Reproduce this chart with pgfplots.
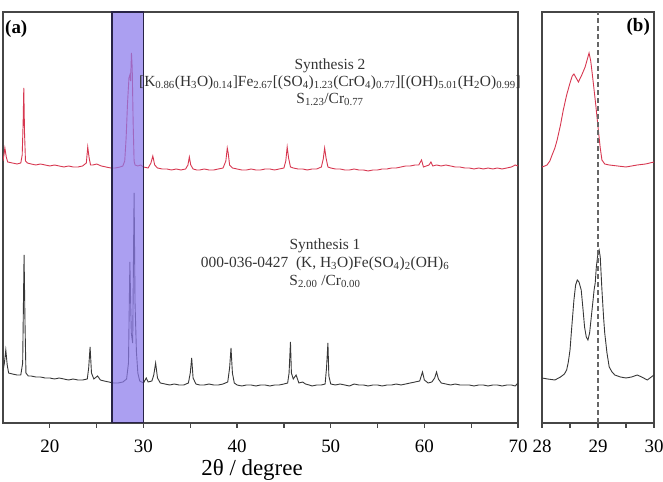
\documentclass[border=0pt]{standalone}
\usepackage{fontspec}
\setmainfont{Liberation Serif}
\usepackage{pgfplots}
\pgfplotsset{compat=1.18}

\definecolor{frame}{RGB}{70,70,70}
\definecolor{redtrace}{RGB}{215,55,80}
\definecolor{blacktrace}{RGB}{55,55,55}
\definecolor{window}{RGB}{139,122,235}
\definecolor{windowedge}{RGB}{40,35,70}
\newcommand{\sub}[1]{\textsubscript{#1}}

% Synthesis 2 (offset trace), 2theta vs intensity
\pgfplotstableread{
x y
15.0 262
15.1 268
15.2 275
15.35 266
15.5 261
16.0 260
16.5 259
16.9 260
17.05 268
17.15 300
17.22 335
17.3 290
17.4 262
17.6 260
18.0 259
18.5 258
19.0 259
19.5 258
20.0 257
20.5 258
21.0 257
21.5 256
22.0 257
22.5 256
23.0 256
23.5 257
23.9 260
24.05 276
24.2 265
24.35 258
24.6 258
25.0 259
25.5 257
26.0 256
26.5 255
27.0 255
27.5 256
27.8 257
28.0 262
28.15 285
28.3 320
28.45 345
28.55 348
28.62 342
28.72 370
28.8 355
28.9 300
29.0 262
29.1 258
29.4 257
29.7 258
30.0 256
30.5 255
30.8 260
31.0 267
31.2 258
31.5 255
32.0 254
32.5 254
33.0 253
33.5 254
34.0 253
34.5 254
34.75 258
34.9 266
35.05 258
35.3 254
35.7 253
36.0 253
36.5 254
37.0 253
37.5 253
38.0 254
38.5 255
38.8 262
38.95 275
39.05 270
39.2 258
39.5 255
40.0 254
40.5 253
41.0 253
41.5 254
42.0 253
42.5 253
43.0 254
43.5 254
44.0 253
44.5 254
45.0 255
45.2 262
45.35 276
45.5 265
45.7 256
46.0 255
46.5 254
47.0 254
47.5 253
48.0 254
48.5 254
49.0 256
49.2 264
49.35 275
49.5 265
49.7 256
50.0 255
50.5 254
51 254
51.5 253
52 253
52.5 254
53 253
53.5 253
54 252
54.5 253
55 253
55.5 254
56 254
56.5 255
57 255
57.5 256
58 257
58.5 257
59 258
59.4 258
59.7 263
59.9 256
60.2 257
60.5 258
60.7 261
60.9 257
61.3 258
61.8 257
62.3 258
62.8 257
63.3 256
63.8 256
64.3 255
64.8 255
65.3 254
65.8 255
66.3 254
66.8 255
67.3 254
67.8 255
68.3 254
68.8 255
69.3 256
69.7 258
70 257
}\synA

% Synthesis 1
\pgfplotstableread{
x y
15.0 52
15.15 60
15.3 73
15.45 58
15.6 50
16.0 49
16.5 48
16.9 48
17.1 60
17.25 168
17.35 100
17.45 50
17.7 47
18.0 47
18.5 46
19.0 46
19.5 45
20.0 45
20.5 44
21.0 45
21.5 44
22.0 43
22.5 44
23.0 43
23.5 43
24.0 44
24.15 55
24.3 76
24.45 50
24.7 44
25.1 47
25.4 43
25.8 42
26.3 41
26.8 40
27.3 40
27.8 41
28.2 44
28.4 60
28.55 161
28.7 90
28.85 80
29.0 230
29.1 120
29.25 71
29.4 50
29.6 42
30.0 40
30.3 45
30.5 41
30.9 42
31.1 48
31.3 60
31.5 45
31.8 40
32.3 39
32.8 38
33.3 39
33.8 38
34.3 38
34.8 40
35.0 50
35.15 65
35.3 45
35.6 39
36.0 38
36.5 38
37.0 39
37.5 38
38.0 38
38.5 39
39.0 41
39.2 55
39.35 75
39.5 50
39.7 40
40.0 38
40.5 37
41.0 38
41.5 38
42.0 37
42.5 38
43.0 38
43.5 37
44.0 38
44.5 38
45.0 39
45.4 40
45.55 50
45.7 81
45.8 50
46.0 44
46.3 48
46.6 40
47.0 41
47.3 39
47.7 38
48.0 37
48.5 38
49.0 38
49.4 39
49.55 55
49.7 80
49.8 47
50.0 39
50.5 38
51.0 39
51.5 38
52.0 37
52.5 39
53.0 38
53.5 38
54.0 37
54.5 38
55.0 38
55.5 37
56.0 38
56.5 38
57.0 39
57.5 38
58.0 39
58.5 40
59.0 41
59.5 42
59.8 51
60.0 43
60.4 40
60.8 41
61.1 45
61.3 51
61.5 44
61.8 40
62.3 39
62.8 38
63.3 39
63.8 38
64.3 38
64.8 38
65.3 37
65.8 38
66.3 38
66.8 37
67.3 38
67.8 38
68.3 37
68.8 38
69.3 38
69.7 37
70.0 40
}\synB

% Detail of the 28-30 degree window
\pgfplotstableread{
x y
28.0 256
28.05 257
28.09 258
28.14 262
28.18 268
28.23 275
28.27 283
28.33 298
28.38 313
28.44 328
28.5 340
28.54 347
28.57 349
28.61 345
28.65 341
28.71 348
28.77 356
28.81 364
28.84 370
28.87 362
28.91 343
28.96 318
29.0 296
29.04 275
29.07 263
29.12 259
29.2 258
29.35 257
29.5 256
29.7 258
29.85 259
30.0 261
}\zoomA

\pgfplotstableread{
x y
28.0 45
28.1 44
28.23 43
28.33 46
28.4 49
28.44 53
28.47 61
28.5 73
28.53 95
28.57 123
28.6 138
28.63 143
28.66 141
28.7 133
28.73 115
28.76 96
28.79 86
28.82 83
28.85 90
28.88 106
28.91 122
28.93 133
28.95 140
28.97 156
29.0 170
29.02 173
29.04 166
29.07 133
29.1 105
29.12 90
29.16 70
29.2 56
29.25 51
29.3 48
29.4 46
29.5 45
29.6 46
29.7 48
29.78 46
29.88 43
30.0 48
}\zoomB

\pgfplotsset{
  xrdpanel/.style={
    scale only axis,
    anchor=south west,
    height=411bp,
    ymin=0, ymax=411,
    ytick=\empty,
    xtick pos=left,
    tick align=outside,
    major tick length=5bp,
    minor tick length=5bp,
    minor x tick num=1,
    every tick/.style={line width=1.2bp, color=frame},
    axis line style={line width=1.6bp, color=frame},
    /pgf/number format/assume math mode=true,
    xticklabel style={font=\fontsize{19}{19}\selectfont, yshift=-8bp},
    clip=true,
  },
}

\begin{document}
\begin{tikzpicture}[x=1bp,y=1bp]
\useasboundingbox (0,0) rectangle (663,482);

% ---- (a) full pattern ----
\begin{axis}[xrdpanel,
  at={(3bp,59bp)}, width=515bp,
  xmin=15, xmax=70,
  xtick={20,30,40,50,60,70},
]
\addplot[redtrace, line width=0.9bp] table {\synA};
\addplot[blacktrace, line width=0.9bp] table {\synB};
\fill[window, fill opacity=0.72] (axis cs:26.65,0) rectangle (axis cs:30,411);
\draw[windowedge, line width=1.8bp] (axis cs:26.65,0) rectangle (axis cs:30,411);
\end{axis}

% ---- (b) 28-30 degree detail ----
\begin{axis}[xrdpanel,
  at={(542bp,59bp)}, width=112bp,
  xmin=28, xmax=30,
  xtick={28,29,30},
]
\addplot[redtrace, line width=0.9bp] table {\zoomA};
\addplot[blacktrace, line width=0.9bp] table {\zoomB};
\draw[black!60, line width=1.4bp, dash pattern=on 5bp off 3bp] (axis cs:29,0) -- (axis cs:29,411);
\end{axis}

% axis title, panel tags and sample annotations
\node[anchor=base, font=\fontsize{23}{23}\selectfont, inner sep=0pt] at (252,6) {2θ / degree};

\node[anchor=west, font=\fontsize{19}{19}\selectfont\bfseries, inner sep=0pt] at (5,453) {(a)};
\node[anchor=east, font=\fontsize{19}{19}\selectfont\bfseries, inner sep=0pt] at (650,455) {(b)};

\node[align=center, font=\fontsize{15.5}{17}\selectfont, text=black!80] at (330,400)
  {Synthesis 2\\
   {[}K\sub{0.86}(H\sub{3}O)\sub{0.14}{]}Fe\sub{2.67}{[}(SO\sub{4})\sub{1.23}(CrO\sub{4})\sub{0.77}{]}{[}(OH)\sub{5.01}(H\sub{2}O)\sub{0.99}{]}\\
   S\sub{1.23}/Cr\sub{0.77}};

\node[align=center, font=\fontsize{15.5}{18}\selectfont, text=black!80] at (325,219)
  {Synthesis 1\\
   000-036-0427\ \ (K, H\sub{3}O)Fe(SO\sub{4})\sub{2}(OH)\sub{6}\\
   S\sub{2.00} /Cr\sub{0.00}};
\end{tikzpicture}
\end{document}
